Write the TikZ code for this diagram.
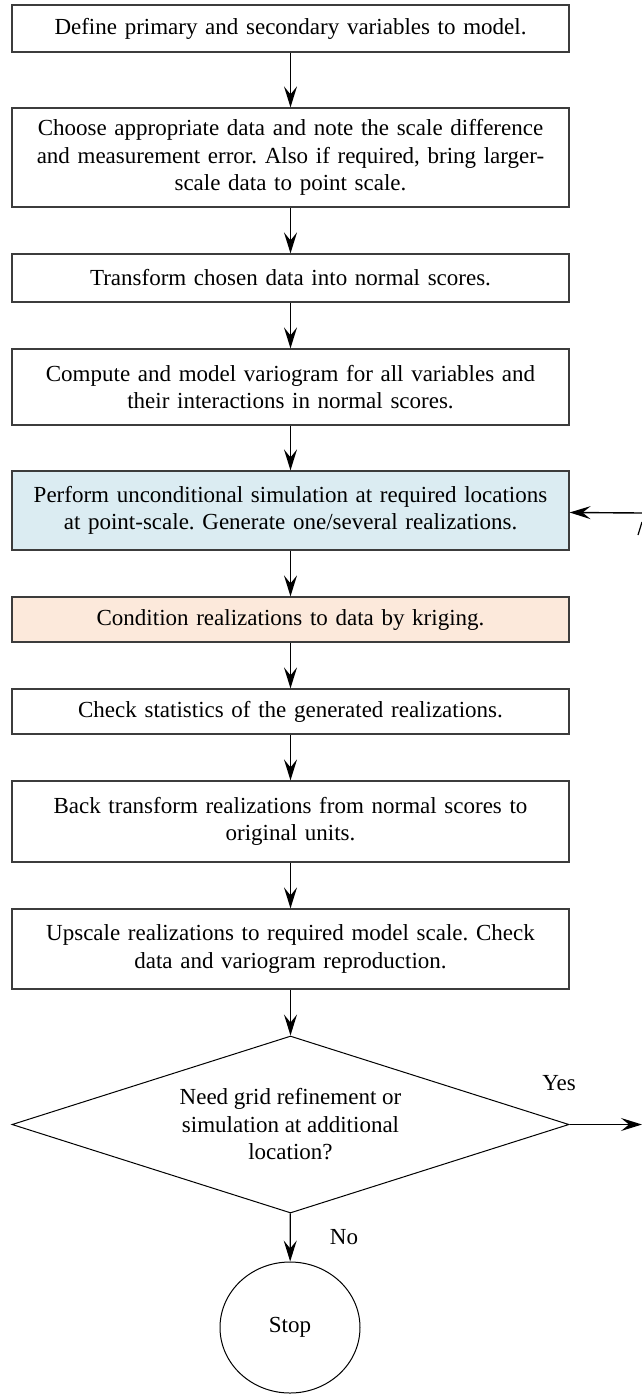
\documentclass[tikz,border=0pt]{standalone}
\usepackage{fontspec}
\setmainfont{Liberation Serif}
\usetikzlibrary{arrows.meta,shapes.geometric}
\definecolor{cbluefill}{RGB}{219,236,242}
\definecolor{corangefill}{RGB}{252,233,219}
\definecolor{cedge}{RGB}{60,60,60}
\tikzset{
  flowsec/.style={x=1pt,y=1pt,font=\fontsize{23}{27.5}\selectfont},
  stepbox/.style={draw=cedge,line width=1.2pt,rectangle,minimum width=557pt,
    text width=545pt,align=center,inner sep=0pt},
  arr/.style={-{Stealth[length=21pt,width=13pt,inset=8pt]},line width=1.4pt},
}
\frenchspacing

\begin{document}
\begin{tikzpicture}[flowsec]
    \useasboundingbox (0,0) rectangle (642,-1395);
    \node[stepbox,minimum height=47pt] (define) at (290.5,-28.5)
      {Define primary and secondary variables to model.};
    \node[stepbox,minimum height=99pt] (choose) at (290.5,-157.5)
      {Choose appropriate data and note the scale difference\\
       and measurement error. Also if required, bring larger-\\
       scale data to point scale.};
    \node[stepbox,minimum height=48pt] (nscore) at (290.5,-278)
      {Transform chosen data into normal scores.};
    \node[stepbox,minimum height=76pt] (vario) at (290.5,-387)
      {Compute and model variogram for all variables and\\
       their interactions in normal scores.};
    \node[stepbox,fill=cbluefill,minimum height=79pt] (uncond) at (290.5,-510.5)
      {Perform unconditional simulation at required locations\\
       at point-scale. Generate one/several realizations.};
    \node[stepbox,fill=corangefill,minimum height=45pt] (krige) at (290.5,-619.5)
      {Condition realizations to data by kriging.};
    \node[stepbox,minimum height=45pt] (stats) at (290.5,-711.5)
      {Check statistics of the generated realizations.};
    \node[stepbox,minimum height=81pt] (back) at (290.5,-821.5)
      {Back transform realizations from normal scores to\\
       original units.};
    \node[stepbox,minimum height=80pt] (upscale) at (290.5,-949)
      {Upscale realizations to required model scale. Check\\
       data and variogram reproduction.};
    \node[diamond,draw,line width=1pt,inner sep=0pt,shape aspect=3.15,
      minimum width=557pt,minimum height=177pt,align=center] (refine) at (290.5,-1124.5)
      {Need grid refinement or\\simulation at additional\\location?};
    \node[ellipse,draw,line width=1pt,minimum width=140pt,minimum height=131pt] (stop)
      at (290,-1327.5) {Stop};
    \node (yes) at (559,-1083) {Yes};
    \node (no) at (344,-1237) {No};
    \coordinate (loopin) at (642,-513);
    \coordinate (loopout) at (642,-1124.5);
    \draw[arr] (define) -- (choose);
    \draw[arr] (choose) -- (nscore);
    \draw[arr] (nscore) -- (vario);
    \draw[arr] (vario) -- (uncond);
    \draw[arr] (uncond) -- (krige);
    \draw[arr] (krige) -- (stats);
    \draw[arr] (stats) -- (back);
    \draw[arr] (back) -- (upscale);
    \draw[arr] (upscale) -- (refine);
    \draw[arr] (refine) -- (stop);
    \draw[arr] (refine.east) -- (loopout);
    \draw[arr] (loopin) -- (uncond);
    % clipped piece of the return line
    \draw[line width=1.2pt] (638,-535) -- (642,-522);
\end{tikzpicture}
\end{document}
